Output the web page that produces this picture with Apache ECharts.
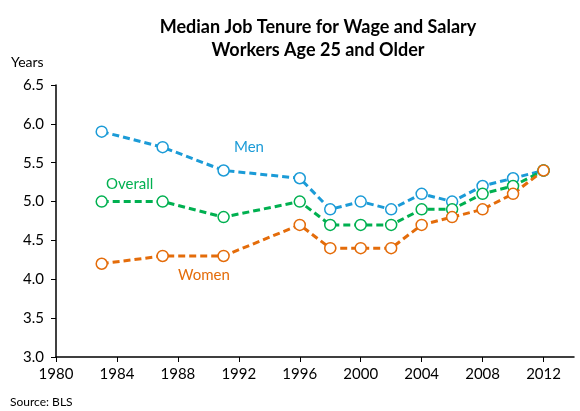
<!DOCTYPE html>
<html>
<head>
<meta charset="utf-8">
<script src="https://cdn.jsdelivr.net/npm/echarts@6/dist/echarts.min.js"></script>
<style>
  html, body { margin: 0; padding: 0; background: #fff; }
  #chart { width: 580px; height: 411px; }
</style>
</head>
<body>
<div id="chart"></div>
<script>
  // data
  const years = [1983, 1987, 1991, 1996, 1998, 2000, 2002, 2004, 2006, 2008, 2010, 2012]
  const men = [5.9, 5.7, 5.4, 5.3, 4.9, 5.0, 4.9, 5.1, 5.0, 5.2, 5.3, 5.4]
  const overall = [5.0, 5.0, 4.8, 5.0, 4.7, 4.7, 4.7, 4.9, 4.9, 5.1, 5.2, 5.4]
  const women = [4.2, 4.3, 4.3, 4.7, 4.4, 4.4, 4.4, 4.7, 4.8, 4.9, 5.1, 5.4]
  const xTicks = [1980, 1984, 1988, 1992, 1996, 2000, 2004, 2008, 2012]

  const font = 'Lato, "Open Sans", sans-serif'
  const colors = { men: '#1B9BD7', overall: '#00B050', women: '#E46C0A' }

  const chart = echarts.init(document.getElementById('chart'), null, { renderer: 'canvas' })

  function makeSeries(name, values, color) {
    return {
      name: name,
      type: 'line',
      data: years.map((y, i) => [y, values[i]]),
      symbol: 'circle',
      symbolSize: 11,
      showAllSymbol: true,
      lineStyle: { color: color, width: 3, type: [7, 4] },
      itemStyle: { color: '#fff', borderColor: color, borderWidth: 1.5 },
      animation: false
    }
  }

  chart.setOption({
    title: {
      text: 'Median Job Tenure for Wage and Salary\nWorkers Age 25 and Older',
      left: 313,
      top: 11,
      textAlign: 'center',
      textStyle: { fontFamily: font, fontWeight: 'bold', fontSize: 18, lineHeight: 23, color: '#000' }
    },
    grid: { left: 56, right: 6, top: 85, bottom: 54, containLabel: false },
    xAxis: {
      type: 'value',
      min: 1980,
      max: 2014,
      interval: 4,
      splitLine: { show: false },
      axisLine: { lineStyle: { color: '#000', width: 1.5 } },
      axisTick: { show: true, length: 5, lineStyle: { color: '#000' }, customValues: xTicks },
      axisLabel: { color: '#000', fontFamily: font, fontSize: 15, margin: 10, customValues: xTicks, formatter: v => String(v) }
    },
    yAxis: {
      type: 'value',
      min: 3,
      max: 6.5,
      interval: 0.5,
      name: 'Years',
      nameLocation: 'end',
      nameGap: 16,
      nameTextStyle: { color: '#000', fontFamily: font, fontSize: 14, align: 'left', padding: [0, 0, 0, -45] },
      splitLine: { show: false },
      axisLine: { show: true, lineStyle: { color: '#000', width: 1.5 } },
      axisTick: { show: true, length: 5, lineStyle: { color: '#000' } },
      axisLabel: { color: '#000', fontFamily: font, fontSize: 15, margin: 12, formatter: v => v.toFixed(1) }
    },
    series: [
      makeSeries('Men', men, colors.men),
      makeSeries('Overall', overall, colors.overall),
      makeSeries('Women', women, colors.women)
    ],
    graphic: [
      { type: 'text', left: 234, top: 140, style: { text: 'Men', fill: colors.men, font: '15px ' + font } },
      { type: 'text', left: 106, top: 177, style: { text: 'Overall', fill: colors.overall, font: '15px ' + font } },
      { type: 'text', left: 178, top: 268, style: { text: 'Women', fill: colors.women, font: '15px ' + font } },
      { type: 'text', left: 10, top: 396, style: { text: 'Source: BLS', fill: '#000', font: '12px ' + font } }
    ]
  })
</script>
</body>
</html>
